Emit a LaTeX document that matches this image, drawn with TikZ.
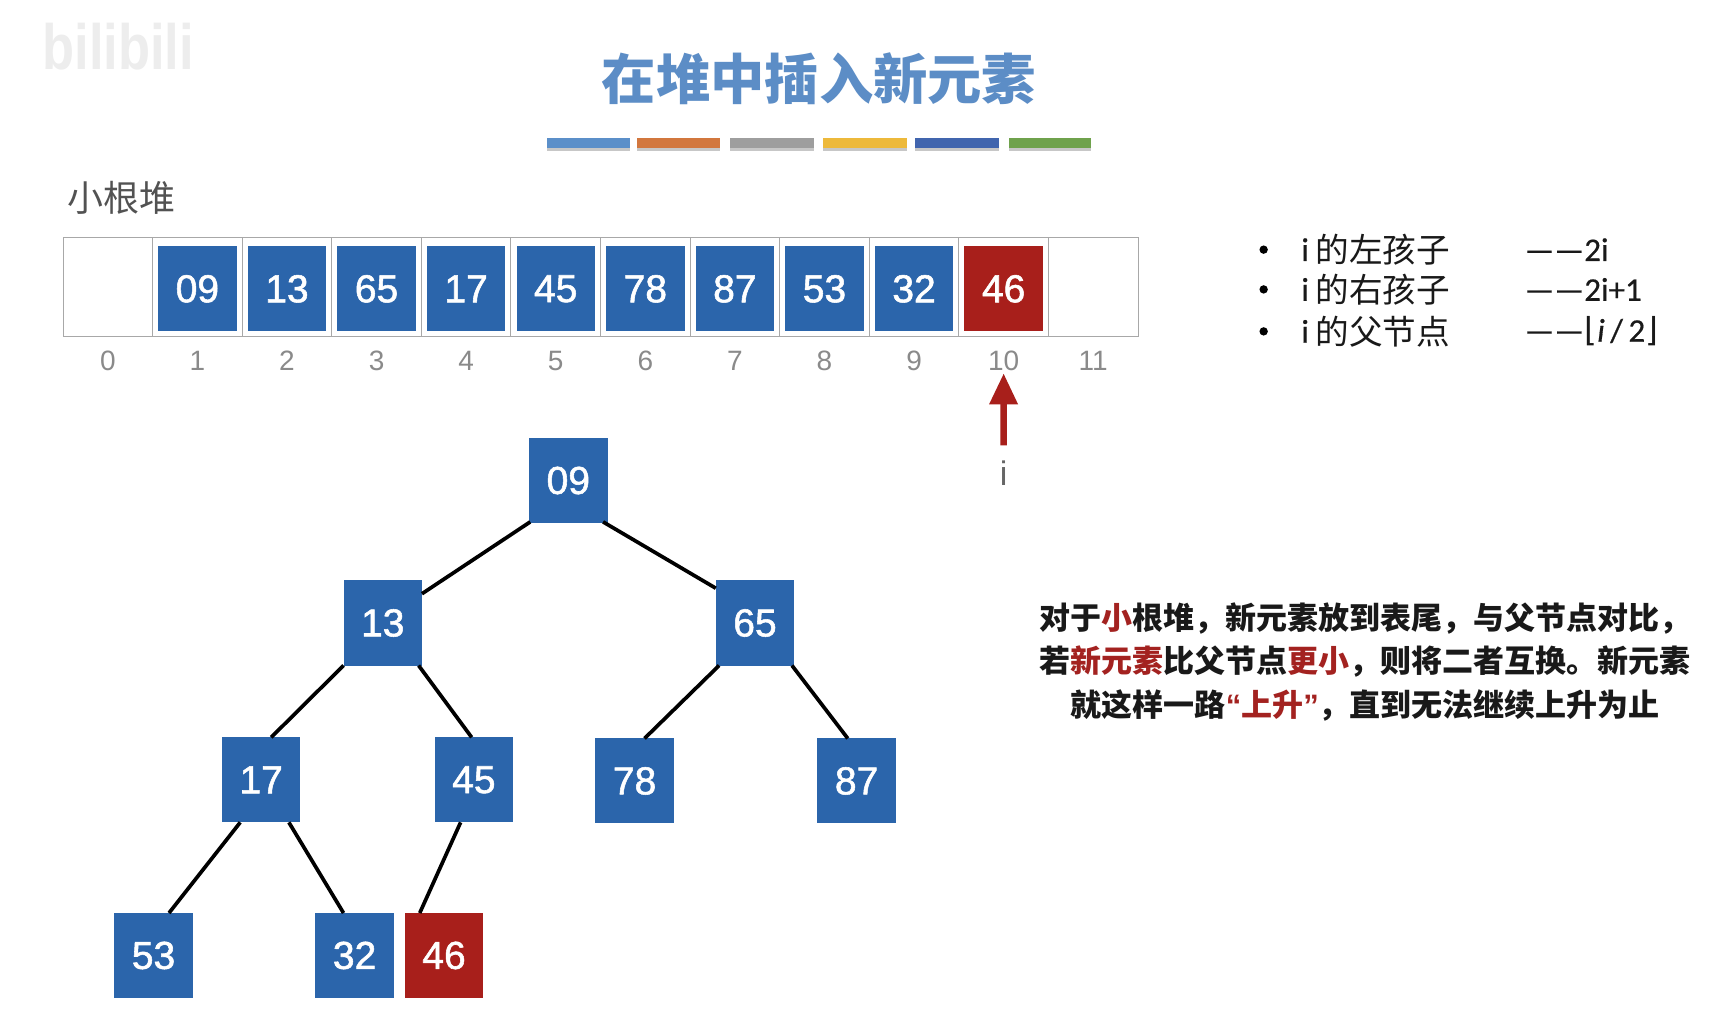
\documentclass[tikz,border=0pt]{standalone}
\usepackage{fontspec}
\setmainfont{Liberation Sans}
\newfontfamily\cjk{Noto Sans CJK SC}
\newcommand{\cjkb}{\cjk\bfseries}
\newfontfamily\cali{Carlito}
\newfontfamily\calib[FakeBold=0.5]{Carlito}
\newfontfamily\dvu{DejaVu Sans}
\newfontfamily\numf[FakeBold=1.4]{Liberation Sans}
\newcommand{\arb}{\rmfamily\bfseries}
\usetikzlibrary{arrows.meta}
\definecolor{boxblue}{HTML}{2B65AB}
\definecolor{boxred}{HTML}{A81F1B}
\definecolor{titleblue}{HTML}{5C8DC6}
\definecolor{cellgray}{HTML}{A8A8A8}
\definecolor{idxgray}{HTML}{8A8A8A}
\definecolor{txtred}{HTML}{A32220}
\newcommand{\rd}[1]{\textcolor{txtred}{#1}}
\tikzset{
  cellbox/.style={draw=cellgray,line width=1pt,fill=white,minimum width=89.6pt,minimum height=99.4pt,inner sep=0pt,outer sep=0pt},
  valbox/.style={fill=boxblue,text=white,minimum width=78.4pt,minimum height=85pt,inner sep=0pt,outer sep=0pt,font=\numf\fontsize{39}{39}\selectfont},
  redbox/.style={valbox,fill=boxred},
  idxlabel/.style={text=idxgray,inner sep=0pt,font=\fontsize{28}{28}\selectfont},
  edge/.style={draw=black,line width=3.7pt},
  listtext/.style={anchor=west,inner sep=0pt,text=black!90,font=\cjk\fontsize{33.6}{33.6}\selectfont},
  listformula/.style={anchor=west,inner sep=0pt,text=black!90,font=\calib\fontsize{33}{33}\selectfont},
}
\begin{document}
\begin{tikzpicture}[x=1.1046pt,y=-1.1046pt]
\useasboundingbox[fill=white] (0,0) rectangle (1568,927);

% watermark
\node[inner sep=0pt,xscale=.82,text=black!7,font=\arb\fontsize{64}{64}\selectfont] (wm) at (107,42) {bilibili};

% title
\node[inner sep=0pt,text=titleblue,font=\cjkb\fontsize{54.3}{54.3}\selectfont] (title) at (741.5,71) {在堆中插入新元素};

% colour bars
\foreach \xa/\xb/\c in {495/570/5B8FC9,577/652/D2773E,661/737/9E9E9E,745/821/EDB93B,828/904/4165AE,913/988/6FA24C}{
  \fill[black!22] (\xa,127) rectangle (\xb,136.5);
  \definecolor{barc}{HTML}{\c}
  \fill[barc] (\xa,125) rectangle (\xb,134);
}

\node[inner sep=0pt,anchor=west,text=black!68,font=\cjk\fontsize{36}{36}\selectfont] (heaplabel) at (60.5,179) {小根堆};

% array
\foreach \i in {0,...,11}{
  \node[cellbox] (cell\i) at ({97.6+81.1*\i},260) {};
  \node[idxlabel] (idx\i) at ({97.6+81.1*\i},327) {\i};
}
\foreach \i/\v in {1/09,2/13,3/65,4/17,5/45,6/78,7/87,8/53,9/32}{
  \node[valbox] (arr\i) at ({97.6+81.1*\i},261.5) {\raisebox{-1pt}{\v}};
}
\node[redbox] (arr10) at ({97.6+81.1*10},261.5) {\raisebox{-1pt}{46}};

% pointer
\node[inner sep=0pt,text=black!60,font=\fontsize{34}{34}\selectfont] (ilabel) at (908.5,428) {i};
\draw[boxred,line width=6.5pt,-{Triangle[length=31pt,width=27pt]}] ([yshift=15pt]ilabel.north) -- ([yshift=-2pt]idx10.south);

% list
\foreach \y/\a/\b/\n in {226/左孩子/{——2i}/1,262/右孩子/{——2i+1}/2,300/父节点/{——{\dvu ⌊}\textit{i}\,/\,2{\dvu ⌋}}/3}{
  \fill[black] (1144,\y) circle (3.8);
  \node[listformula] (ii\n) at (1178,\y) {i};
  \node[listtext] (lt\n) at (1191,\y) {的\a};
  \node[listformula] (lf\n) at (1380,\y) {\b};
}

% explanation
\node[inner sep=0pt,align=center,text=black!90,font=\cjkb\fontsize{31}{43.6}\selectfont] (expl) at (1236,599) {%
对于\rd{小}根堆，新元素放到表尾，与父节点对比，\\
若\rd{新元素}比父节点\rd{更小}，则将二者互换。新元素\\
就这样一路\rd{{\arb“}上升{\arb”}}，直到无法继续上升为止};

% tree
\foreach \n/\v/\x/\y in {t09/09/514.5/435,t13/13/346.5/564,t65/65/683.5/564,t17/17/236.5/706,t45/45/429/706,t78/78/574.5/707,t87/87/775.5/707,t53/53/139/865,t32/32/321/865}{
  \node[valbox] (\n) at (\x,\y) {\raisebox{-1pt}{\v}};
}
\node[redbox] (t46) at (402,865) {\raisebox{-1pt}{46}};

\draw[edge] ([shift={(1,-1)}]t09.south west) -- ([shift={(0,12)}]t13.north east);
\draw[edge] ([shift={(-4,-1)}]t09.south east) -- ([shift={(0,7)}]t65.north west);
\draw[edge] (t13.south west) -- ([shift={(9,0)}]t17.north);
\draw[edge] ([shift={(-3,0)}]t13.south east) -- ([shift={(-2,0)}]t45.north);
\draw[edge] ([shift={(3,0)}]t65.south west) -- ([shift={(9,0)}]t78.north);
\draw[edge] ([shift={(-2,0)}]t65.south east) -- ([shift={(-8,0)}]t87.north);
\draw[edge] ([shift={(-19,0)}]t17.south) -- ([shift={(14,0)}]t53.north);
\draw[edge] ([shift={(25,0)}]t17.south) -- ([shift={(-10,0)}]t32.north);
\draw[edge] ([shift={(-12,0)}]t45.south) -- ([shift={(-22,0)}]t46.north);
\end{tikzpicture}
\end{document}
